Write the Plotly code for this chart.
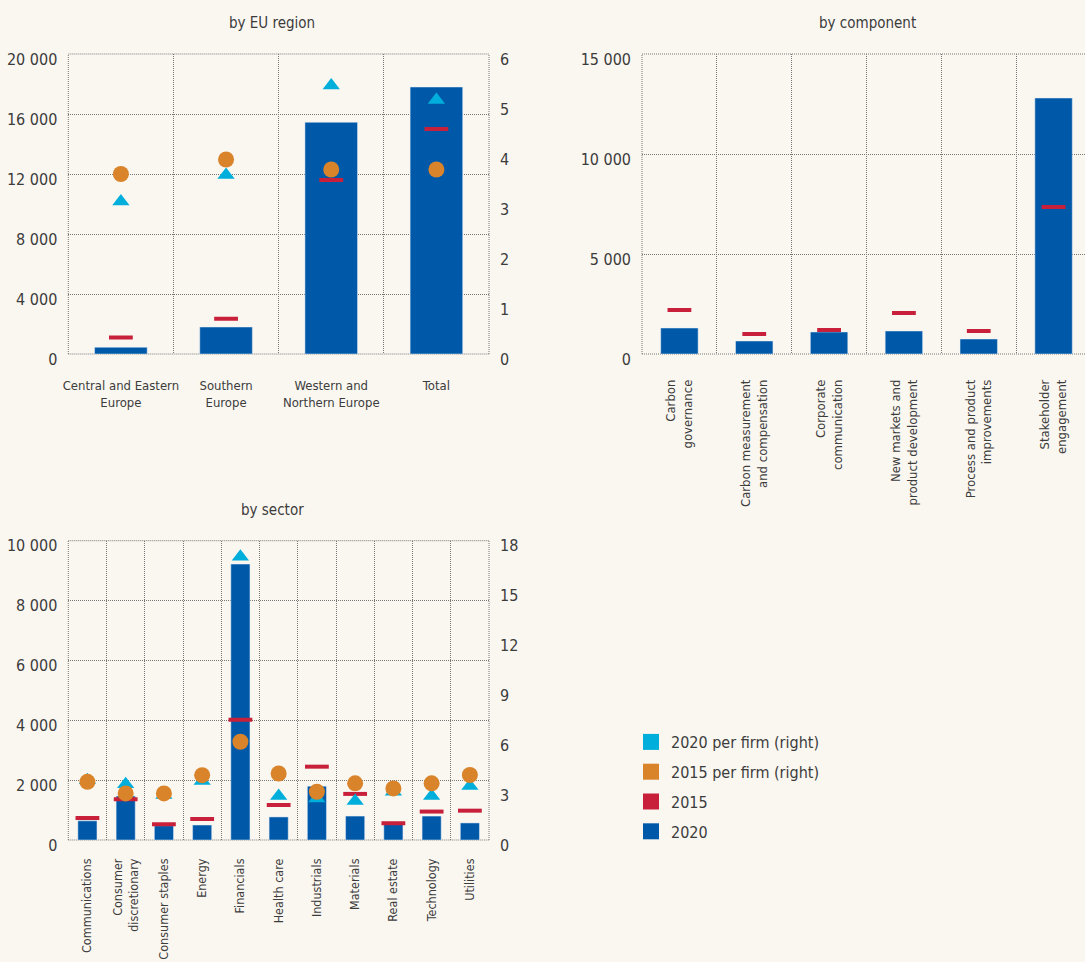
import plotly.graph_objects as go

# ---------------- data ----------------
region_cats = ["Central and Eastern<br>Europe", "Southern<br>Europe", "Western and<br>Northern Europe", "Total"]
region_2020 = [450, 1800, 15450, 17800]
region_2015 = [1100, 2350, 11600, 15000]
region_2015_pf = [3.6, 3.89, 3.69, 3.69]
region_2020_pf = [3.05, 3.58, 5.37, 5.08]

comp_cats = ["Carbon<br>governance", "Carbon measurement<br>and compensation", "Corporate<br>communication",
             "New markets and<br>product development", "Process and product<br>improvements", "Stakeholder<br>engagement"]
comp_2020 = [1300, 650, 1100, 1150, 750, 12800]
comp_2015 = [2200, 1000, 1200, 2050, 1150, 7350]

sector_cats = ["Communications", "Consumer<br>discretionary", "Consumer staples", "Energy", "Financials",
               "Health care", "Industrials", "Materials", "Real estate", "Technology", "Utilities"]
sector_2020 = [640, 1470, 480, 500, 9220, 770, 1800, 800, 570, 800, 570]
sector_2015 = [735, 1360, 530, 700, 4020, 1170, 2450, 1540, 560, 950, 980]
sector_2015_pf = [3.5, 2.8, 2.8, 3.9, 5.91, 4.0, 2.9, 3.41, 3.1, 3.41, 3.91]
sector_2020_pf = [3.6, 3.36, 2.7, 3.55, 17.03, 2.65, 2.5, 2.35, 2.9, 2.65, 3.25]

legend_names = ["2020 per firm (right)", "2015 per firm (right)", "2015", "2020"]

# ---------------- style ----------------
BG = "#FAF7F1"
BLUE = "#0059A8"
RED = "#C8203A"
ORANGE = "#D9832A"
CYAN = "#00AEDB"
GRID = "#777777"
DASH = "1px,1px"
TXT = "#3c3c3c"
FONT = "Liberation Sans Narrow, DejaVu Sans Condensed, Arial Narrow, sans-serif"

fig = go.Figure()

def add_panel(cats, v2020, v2015, xa, ya, ya2=None, pf2015=None, pf2020=None):
    fig.add_trace(go.Bar(x=cats, y=v2020, marker_color=BLUE, width=0.5, xaxis=xa, yaxis=ya,
                         showlegend=False, hoverinfo="skip"))
    fig.add_trace(go.Scatter(x=cats, y=v2015, mode="markers", xaxis=xa, yaxis=ya, showlegend=False,
                             marker=dict(symbol="line-ew", size=17, line=dict(width=4, color=RED)),
                             hoverinfo="skip"))
    if ya2 is not None:
        fig.add_trace(go.Scatter(x=cats, y=pf2020, mode="markers", xaxis=xa, yaxis=ya2, showlegend=False,
                                 marker=dict(symbol="triangle-up", size=15, color=CYAN), hoverinfo="skip"))
        fig.add_trace(go.Scatter(x=cats, y=pf2015, mode="markers", xaxis=xa, yaxis=ya2, showlegend=False,
                                 marker=dict(symbol="circle", size=16, color=ORANGE), hoverinfo="skip"))

add_panel(region_cats, region_2020, region_2015, "x", "y", "y2", region_2015_pf, region_2020_pf)
add_panel(comp_cats, comp_2020, comp_2015, "x3", "y3")
add_panel(sector_cats, sector_2020, sector_2015, "x4", "y4", "y5", sector_2015_pf, sector_2020_pf)

# legend-only traces
for name, col in zip(legend_names, [CYAN, ORANGE, RED, BLUE]):
    fig.add_trace(go.Scatter(x=[None], y=[None], mode="markers", name=name, legendgroup=name,
                             marker=dict(symbol="square", size=16, color=col)))

xcommon = dict(type="category", tickson="boundaries", showgrid=True, griddash=DASH, gridcolor=GRID,
               gridwidth=1, ticks="", showline=False, zeroline=False, automargin=False,
               tickfont=dict(family=FONT, size=13, color=TXT), ticklabelstandoff=22)
ycommon = dict(showgrid=True, griddash=DASH, gridcolor=GRID, gridwidth=1, zeroline=False, showline=False,
               ticks="", tickformat=",", tickfont=dict(family=FONT, size=16, color=TXT), automargin=False,
               ticklabelstandoff=10, ticklabelshift=5)
y2common = dict(showgrid=False, zeroline=False, showline=False, ticks="", side="right", automargin=False,
                tickfont=dict(family=FONT, size=16, color=TXT), ticklabelstandoff=10, ticklabelshift=5)

top_dom = [1 - 354 / 962, 1 - 54 / 962]
bot_dom = [1 - 840 / 962, 1 - 540.7 / 962]
left_dom = [68.3 / 1085, 489 / 1085]

fig.update_layout(
    width=1085, height=962, paper_bgcolor=BG, plot_bgcolor=BG,
    margin=dict(l=0, r=0, t=0, b=0, autoexpand=False), separators=". ", barmode="overlay",
    font=dict(family=FONT, color=TXT),
    xaxis=dict(xcommon, domain=left_dom, anchor="y", range=[-0.5, 3.5], tickangle=0),
    yaxis=dict(ycommon, domain=top_dom, anchor="x", range=[0, 20000], dtick=4000),
    yaxis2=dict(y2common, overlaying="y", anchor="x", range=[0, 6], dtick=1),
    xaxis3=dict(xcommon, domain=[642 / 1085, 1.0], anchor="y3", range=[-0.5, 5.42], tickangle=-90),
    yaxis3=dict(ycommon, domain=top_dom, anchor="x3", range=[0, 15000], dtick=5000),
    xaxis4=dict(xcommon, domain=left_dom, anchor="y4", range=[-0.5, 10.5], tickangle=-90,
                ticklabelstandoff=15, tickfont=dict(family=FONT, size=12.5, color=TXT)),
    yaxis4=dict(ycommon, domain=bot_dom, anchor="x4", range=[0, 10000], dtick=2000),
    yaxis5=dict(y2common, overlaying="y4", anchor="x4", range=[0, 18], dtick=3),
    legend=dict(x=631 / 1085, y=1 - 725 / 962, xanchor="left", yanchor="top", bgcolor="rgba(0,0,0,0)",
                font=dict(family=FONT, size=16, color=TXT), traceorder="grouped", tracegroupgap=6),
    showlegend=True,
)

# dotted frames around plot areas
def frame(xa, ya, sides=("l", "r", "t", "b")):
    xr, yr = xa + " domain", ya + " domain"
    seg = {"l": (0, 0, 0, 1), "r": (1, 0, 1, 1), "t": (0, 1, 1, 1), "b": (0, 0, 1, 0)}
    for s in sides:
        x0, y0, x1, y1 = seg[s]
        fig.add_shape(type="line", xref=xr, yref=yr, x0=x0, y0=y0, x1=x1, y1=y1, layer="below",
                      line=dict(color=GRID, width=1, dash=DASH))

frame("x", "y")
frame("x3", "y3", ("l", "t", "b"))
frame("x4", "y4")

for txt, x, y in [("by EU region", 272, 23), ("by component", 867, 23), ("by sector", 272, 510)]:
    fig.add_annotation(text=txt, x=x / 1085, y=1 - y / 962, xref="paper", yref="paper",
                       showarrow=False, xanchor="center", yanchor="middle",
                       font=dict(family=FONT, size=15, color=TXT))

fig.write_html("out.html", config={"displayModeBar": False},
               post_script="document.body.style.margin='0';document.body.style.overflow='hidden';")
